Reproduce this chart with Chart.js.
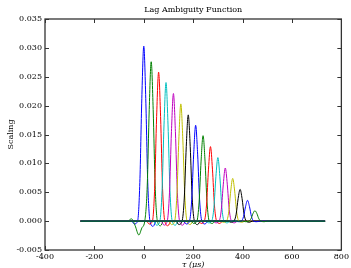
<!DOCTYPE html>
<html>
<head>
<meta charset="utf-8">
<script src="https://cdn.jsdelivr.net/npm/chart.js@4/dist/chart.umd.min.js"></script>
<style>
html,body{margin:0;padding:0;background:#fff;}
canvas{display:block;}
</style>
</head>
<body>
<canvas id="c" width="351" height="268" style="width:351px;height:268px"></canvas>
<script>
// ---- data ----
const chartTitle = 'Lag Ambiguity Function';
const xTitle = 'τ (μs)';
const yTitle = 'Scaling';
const xTicks = [-400, -200, 0, 200, 400, 600, 800];
const yTicks = [-0.005, 0.000, 0.005, 0.010, 0.015, 0.020, 0.025, 0.030, 0.035];
const baselineStart = -256;
const baselineEnd = 734;
// lag (μs) at which each pulse peaks
const lagCenters = [0, 30, 60, 90, 120, 150, 180, 210, 240, 270, 300, 330, 360, 390, 420, 450];
// sample offsets (μs) around each pulse centre
const sampleOffsets = [-95, -80, -65, -50, -38, -25, -16, -8, 0, 8, 16, 25, 38, 50, 65];
// values of each pulse at those offsets
const pulse0  = [0, 0, 0, 0, -0.0005, 0, 0.0067, 0.0212, 0.0303, 0.0212, 0.0067, 0, -0.0009, 0, 0];
const pulse1  = [0, 0.0004, -0.0008, -0.0024, -0.0012, 0.0003, 0.0061, 0.0193, 0.0276, 0.0193, 0.0061, 0, -0.0008, 0, 0];
const pulse2  = [0, 0, 0, 0, -0.0005, 0, 0.0057, 0.0181, 0.0258, 0.0181, 0.0057, 0, -0.0008, 0, 0];
const pulse3  = [0, 0, 0, 0, -0.0007, 0, 0.0053, 0.0168, 0.0240, 0.0168, 0.0053, 0, -0.0007, 0, 0];
const pulse4  = [0, 0, 0, 0, -0.0007, 0, 0.0049, 0.0155, 0.0221, 0.0155, 0.0049, 0, -0.0007, 0, 0];
const pulse5  = [0, 0, 0, 0, -0.0006, 0, 0.0045, 0.0142, 0.0203, 0.0142, 0.0045, 0, -0.0006, 0, 0];
const pulse6  = [0, 0, 0, 0, -0.0006, 0, 0.0040, 0.0129, 0.0184, 0.0129, 0.0040, 0, -0.0006, 0, 0];
const pulse7  = [0, 0, 0, 0, -0.0005, 0, 0.0037, 0.0116, 0.0166, 0.0116, 0.0037, 0, -0.0005, 0, 0];
const pulse8  = [0, 0, 0, 0, -0.0004, 0, 0.0033, 0.0104, 0.0148, 0.0104, 0.0033, 0, -0.0004, 0, 0];
const pulse9  = [0, 0, 0, 0, -0.0004, 0, 0.0028, 0.0090, 0.0129, 0.0090, 0.0028, 0, -0.0004, 0, 0];
const pulse10 = [0, 0, 0, 0, -0.0003, 0, 0.0024, 0.0077, 0.0110, 0.0077, 0.0024, 0, -0.0003, 0, 0];
const pulse11 = [0, 0, 0, 0, -0.0003, 0, 0.0020, 0.0064, 0.0092, 0.0064, 0.0020, 0, -0.0003, 0, 0];
const pulse12 = [0, 0, 0, 0, -0.0002, 0, 0.0016, 0.0052, 0.0074, 0.0052, 0.0016, 0, -0.0002, 0, 0];
const pulse13 = [0, 0, 0, 0, -0.0002, 0, 0.0012, 0.0039, 0.0055, 0.0039, 0.0012, 0, -0.0002, 0, 0];
const pulse14 = [0, 0, 0, 0, -0.0001, 0, 0.0008, 0.0025, 0.0036, 0.0025, 0.0008, 0, -0.0001, 0, 0];
const pulse15 = [0, 0, 0, 0, -0.0001, 0, 0.0004, 0.0013, 0.0018, 0.0013, 0.0004, 0, -0.0001, 0, 0];
const pulses = [pulse0, pulse1, pulse2, pulse3, pulse4, pulse5, pulse6, pulse7,
                pulse8, pulse9, pulse10, pulse11, pulse12, pulse13, pulse14, pulse15];
const colorCycle = ['#0000ff', '#008000', '#ff0000', '#00bfbf', '#bf00bf', '#bfbf00', '#000000'];

// ---- build datasets ----
const datasets = pulses.map((vals, k) => {
  const pts = [{x: baselineStart, y: 0}];
  sampleOffsets.forEach((o, i) => pts.push({x: lagCenters[k] + o, y: vals[i]}));
  pts.push({x: baselineEnd, y: 0});
  return {
    data: pts,
    borderColor: colorCycle[k % colorCycle.length],
    borderWidth: 1,
    pointRadius: 0,
    fill: false,
    cubicInterpolationMode: 'monotone',
    order: pulses.length - 1 - k
  };
});

const FONT = 'DejaVu Serif';
const frameColor = '#333';

const framePlugin = {
  id: 'frame',
  afterDraw(chart) {
    const {ctx, chartArea: a, scales: {x, y}} = chart;
    ctx.save();
    ctx.strokeStyle = frameColor;
    ctx.lineWidth = 1.3;
    ctx.strokeRect(a.left, a.top, a.right - a.left, a.bottom - a.top);
    ctx.lineWidth = 1;
    const L = 4;
    ctx.beginPath();
    xTicks.forEach(v => {
      const px = Math.round(x.getPixelForValue(v)) + 0.5;
      ctx.moveTo(px, a.bottom); ctx.lineTo(px, a.bottom - L);
      ctx.moveTo(px, a.top); ctx.lineTo(px, a.top + L);
    });
    yTicks.forEach(v => {
      const py = Math.round(y.getPixelForValue(v)) + 0.5;
      ctx.moveTo(a.left, py); ctx.lineTo(a.left + L, py);
      ctx.moveTo(a.right, py); ctx.lineTo(a.right - L, py);
    });
    ctx.stroke();
    ctx.restore();
  }
};

new Chart(document.getElementById('c'), {
  type: 'line',
  data: { datasets },
  plugins: [framePlugin],
  options: {
    responsive: false,
    animation: false,
    layout: { padding: { left: 0, right: 9, top: 0, bottom: 0 } },
    plugins: {
      legend: { display: false },
      tooltip: { enabled: false },
      title: {
        display: true, text: chartTitle, fullSize: false, color: '#000',
        font: { family: FONT, size: 8, weight: 'normal' },
        padding: { top: 5, bottom: 4.4 }
      }
    },
    scales: {
      x: {
        type: 'linear', min: -400, max: 800,
        afterBuildTicks: s => { s.ticks = xTicks.map(v => ({value: v})); },
        ticks: { color: '#000', font: { family: FONT, size: 8 }, padding: 2, maxRotation: 0, autoSkip: false,
                 callback: v => String(v) },
        grid: { display: false, drawTicks: false },
        border: { display: false },
        title: { display: true, text: xTitle, color: '#000',
                 font: { family: FONT, size: 8, style: 'italic' }, padding: { top: 0, bottom: -2 } },
        afterFit: s => { s.height = 18; }
      },
      y: {
        type: 'linear', min: -0.005, max: 0.035,
        afterBuildTicks: s => { s.ticks = yTicks.map(v => ({value: v})); },
        ticks: { color: '#000', font: { family: FONT, size: 8 }, padding: 3, autoSkip: false,
                 callback: v => v.toFixed(3) },
        grid: { display: false, drawTicks: false },
        border: { display: false },
        title: { display: true, text: yTitle, color: '#000',
                 font: { family: FONT, size: 8 }, padding: { top: 6, bottom: 0 } },
        afterFit: s => { s.width = 45; }
      }
    }
  }
});
</script>
</body>
</html>
